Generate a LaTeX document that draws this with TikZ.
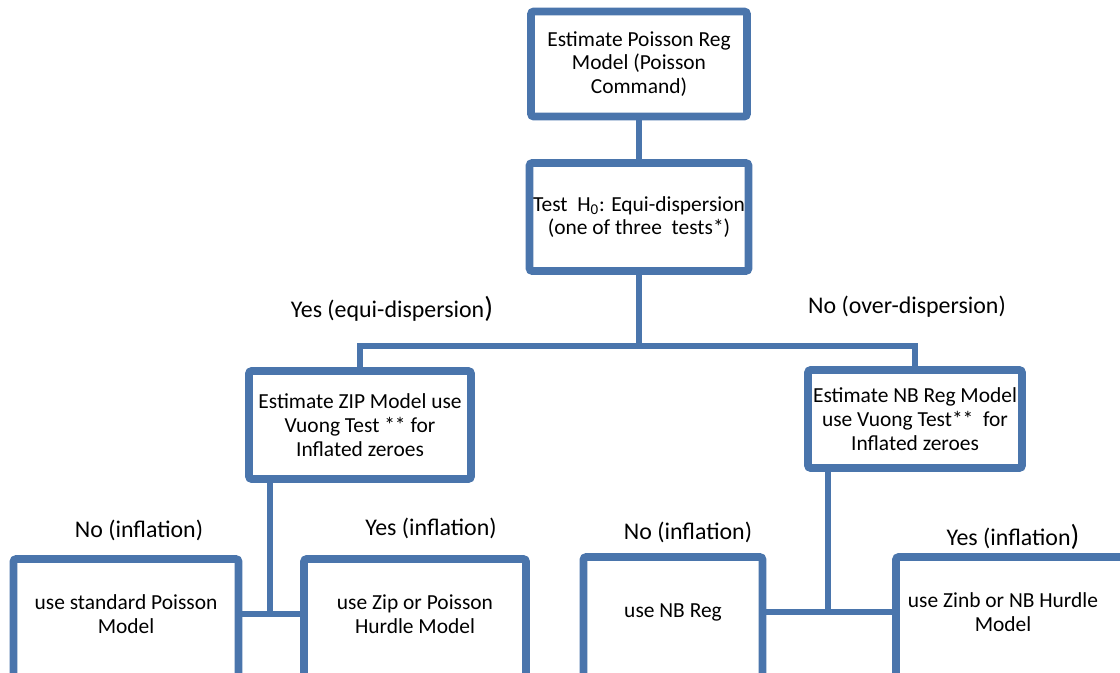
\documentclass[tikz,border=0pt]{standalone}
\usepackage{fontspec}
\setmainfont{Carlito}
\usetikzlibrary{positioning,shadows}

\definecolor{boxblue}{RGB}{74,117,172}
\newcommand{\bigparen}{{\fontsize{16.5}{15}\selectfont)}}

\begin{document}
\begin{tikzpicture}[x=0.02cm, y=-0.02cm,
    frame/.style={draw=boxblue, line width=4.4pt, fill=white, rounded corners=1.5pt,
        drop shadow={shadow xshift=1.2pt, shadow yshift=-1.6pt, opacity=0.25}},
    box/.style={frame, align=center, font=\fontsize{12.2}{13.6}\selectfont, inner sep=2pt},
    boxtext/.style={align=center, font=\fontsize{12.2}{13.6}\selectfont, inner sep=1pt},
    lab/.style={font=\fontsize{13.6}{15}\selectfont},
    link/.style={draw=boxblue, line width=3.8pt}]

    \useasboundingbox (0,0) rectangle (1120,673);

    % Nodes
    \node (poisson) [box, minimum width=4.32cm, minimum height=2.1cm] at (639,64)
        {Estimate Poisson Reg\\Model (Poisson\\Command)};
    \node (test) [box, minimum width=4.32cm, minimum height=2.16cm] at (639,217)
        {Test~ H\textsubscript{0}: Equi-dispersion\\(one of three~ tests*)};
    \node (zip) [box, minimum width=4.44cm, minimum height=2.16cm] at (360,425)
        {Estimate ZIP Model use\\Vuong Test ** for\\Inflated zeroes};
    \node (nb) [box, minimum width=4.28cm, minimum height=1.96cm] at (915,419)
        {Estimate NB Reg Model\\use Vuong Test**~ for\\Inflated zeroes};

    % Bottom boxes run past the lower edge
    \node (std) [frame, minimum width=4.5cm, minimum height=2.8cm] at (126,629) {};
    \node (stdtext) [boxtext] at (126,614) {use standard Poisson\\Model};
    \node (zipuse) [frame, minimum width=4.44cm, minimum height=2.8cm] at (415,629) {};
    \node (zipusetext) [boxtext] at (415,614) {use Zip or Poisson\\Hurdle Model};
    \node (nbreg) [frame, minimum width=3.58cm, minimum height=2.8cm] at (673,627) {};
    \node (nbregtext) [boxtext] at (673,612) {use NB Reg};
    \node (zinb) [frame, minimum width=5cm, minimum height=2.8cm] at (1021,627) {};
    \node (zinbtext) [boxtext] at (1003,612) {use Zinb or NB Hurdle\\Model};

    % Labels
    \node (yesequi) [lab] at (392,309) {Yes (equi-dispersion\bigparen};
    \node (noover) [lab] at (907,307) {No (over-dispersion)};
    \node (noinfl) [lab] at (139,530) {No (inflation)};
    \node (yesinfl) [lab] at (431,528) {Yes (inflation)};
    \node (noinflnb) [lab] at (688,532) {No (inflation)};
    \node (yesinflnb) [lab] at (1013,537) {Yes (inflation\bigparen};

    % Connectors
    \coordinate (split) at (639,346);
    \coordinate (zipfoot) at ([xshift=-1.8cm]zip.south);
    \coordinate (nbfoot) at ([xshift=-1.74cm]nb.south);
    \begin{scope}[on background layer/.try]
    \draw[link] (poisson) -- (test);
    \draw[link] (test) -- (split);
    \draw[link] (zip.north) |- (split) -| (nb.north);
    \draw[link] (std.east |- stdtext) -- (zipuse.west |- stdtext);
    \draw[link] (zipfoot) -- (zipfoot |- stdtext);
    \draw[link] (nbreg.east |- nbregtext) -- (zinb.west |- nbregtext);
    \draw[link] (nbfoot) -- (nbfoot |- nbregtext);
    \end{scope}

\end{tikzpicture}
\end{document}
